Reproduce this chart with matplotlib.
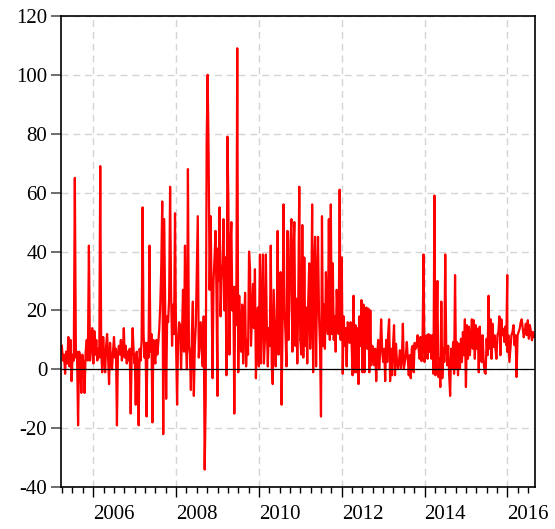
import numpy as np
import pandas as pd
import matplotlib
matplotlib.use("Agg")
import matplotlib.pyplot as plt
import matplotlib.dates as mdates

plt.rcParams["font.family"] = ["Liberation Serif", "DejaVu Serif"]
plt.rcParams["axes.unicode_minus"] = False

# values, one list per calendar year (evenly spread within the year)
first_day = "2005-03-29"
last_day = "2016-08-23"

v2005 = [8, 3, 5, -1.5, 6, 2, 11, 1, 10, -4, 5, 3, 65, 4, 6, -19, 6, 4, -8, 5,
         2, -8, 6, 10, 3, 42, 3, 7, 14, 4]
v2006 = [2, 13, 5, 10, 3, 7, 4, 69, 6, -1, 11, 4, -1, 8, 12, 4, -5, 9, 3, 0,
         6, 11, 4, 7, -19, 5, 8, 5, 10, 3, 6, 14, 4, 8, 2, 6, 3, 7, -15, 5,
         14, 6, 2]
v2007 = [5, -12, 6, 1, -19, 7, 3, 10, 55, 12, 4, 9, -16, 9, 4, 42, 6, 12, -18, 10,
         4, 2, 10, 5, 9, 14, 22, 35, 57, -22, 51, 20, -10, 18, 16, 24, 62, 26, 8, 22,
         12, 53, 10]
v2008 = [8, -12, 10, 16, 15, 0, 12, 27, 6, 42, 10, 0, 68, 8, 5, -7, 12, 23, -9, 8,
         15, 34, 52, 4, 10, 16, 6, 1, 18, -34, -11, 77, 100, 73, 27, 52, 27, -3, 30, 38,
         47, 25, -9]
v2009 = [41, 30, 55, 18, 30, 36, 51, 20, 38, -2, 79, 56, 5, 41, 50, 20, 28, -15, 28, 15,
         109, -1, 25, 12, 6, 22, 2, 15, 26, 1, 10, 5, 40, 34, 8, 18, 29, 14, 34, -3,
         12, 21, 1]
v2010 = [12, 39, 2, 20, 39, 2, 10, 39, 14, 1, 14, 8, 42, 1, -5, 27, 14, 1, 12, 47,
         5, 20, 33, -12, 15, 56, 20, 12, 1, 47, 10, 22, 43, 51, 6, 39, 50, 8, 24, 2,
         24, 62, 10]
v2011 = [10, 5, 49, 4, 38, 8, 21, 2, 23, 36, 7, 18, 56, -1, 33, 45, 1, 30, 45, 18,
         8, -16, 52, 8, 22, 7, 33, 18, 12, 51, 10, 56, 12, 36, 10, 18, 6, 27, 18, 12,
         61, 10, 38]
v2012 = [38, -1.5, 18, 8, 14, 1, 16, 15, 9, 16, 9, -2, 25, -1, 15, -1, 14, -5, 18, 8,
         23.5, -1, 22, -1, 12, 21, 7, 20.6, -1, 20, 1.4, 8, 7, 1.4, 7, -4, 5, 10, 0, 6,
         17, 7, 2.5]
v2013 = [2.5, 7, -4, 10, 2.5, 12, 17, -4, 7, -2, 8, 15, -2, 8.7, 2.5, 0.2, 2.5, 6.5, 0.2, 3.6,
         15.5, 0.2, 2.5, 4.8, 9.3, 3.6, -2, 4.8, -3, 7, 8, -1, 9, 7, 8, 11.6, 7, 3.6, 11, 2.8,
         8, 39, 2.5]
v2014 = [2.5, 9, 11.6, 3.6, 12, 5.9, 11.6, 3.6, 11.6, -1.5, 59, -2, 10.4, 30, -2.6, 3.6, -6, 23, -3, 7,
         2.5, 39, 8, 1.4, 8, -2, -9, 7, 0.2, 9.3, -1.5, 32, 0.2, 9.3, -2, 8.7, 0.2, 10.4, 2.5, 12.7,
         4.8, 17, -6]
v2015 = [-6, 15, 3.6, 14.5, 4.8, 10.4, 17, 7, 16.7, 3.6, 15, 7, 13.8, -1, 14.5, 7, 2.5, 11.6, 2.5, -1,
         -1.5, 10.4, 4.8, 25, 7, 17, 3.6, 15.5, 7.6, 11.6, 7, 3.6, 11.6, 12.7, 18, 4.8, 17, 11.6, 13.8, 9.3,
         14.5, 8.2, 32]
v2016 = [5.9, 11.6, 2.5, 7, 11.6, 12.7, 15, 8.2, 11.6, -2.6, 11.6, 12.7, 13.8, 16, 17, 13.8, 10.9, 12.7,
         15.5, 11.6, 16.7, 10.4, 15, 12.7, 9.9, 12.7, 11]

years = list(range(2005, 2017))
year_values = [v2005, v2006, v2007, v2008, v2009, v2010, v2011, v2012,
               v2013, v2014, v2015, v2016]

parts = []
for yr, vals in zip(years, year_values):
    start = first_day if yr == 2005 else f"{yr}-01-01"
    end = last_day if yr == 2016 else f"{yr}-12-31"
    idx = pd.date_range(start, end, periods=len(vals))
    parts.append(pd.Series(vals, index=idx))
series = pd.concat(parts)

fig = plt.figure(figsize=(5.55, 5.29), dpi=100)
ax = fig.add_axes([0.110, 0.079, 0.854, 0.891])

ax.plot(series.index, series.values, color="#ff0000", lw=1.6)
ax.axhline(0, color="black", lw=0.9)

ax.set_ylim(-40, 120)
ax.set_yticks(range(-40, 121, 20))
ax.set_xlim(pd.Timestamp("2005-03-22"), pd.Timestamp("2016-09-01"))

even_years = [pd.Timestamp(f"{y}-01-01") for y in range(2006, 2017, 2)]
ax.set_xticks(even_years)
ax.set_xticklabels([str(y) for y in range(2006, 2017, 2)], ha="left")
ax.xaxis.set_minor_locator(mdates.MonthLocator(bymonth=[1, 4, 7, 10]))

for d in even_years:
    ax.axvline(d, color="#d4d4d4", lw=1, ls=(0, (5, 3.5)), zorder=0)
ax.yaxis.grid(True, color="#d4d4d4", lw=1, ls=(0, (5, 3.5)))
ax.set_axisbelow(True)

ax.tick_params(axis="y", which="major", length=7, width=1.2, color="#555555",
               labelsize=15, pad=3)
ax.tick_params(axis="x", which="major", length=7, width=1, labelsize=15, pad=6)
ax.tick_params(axis="x", which="minor", length=4, width=1)
for s in ax.spines.values():
    s.set_linewidth(1.2)

fig.savefig("out.png", dpi=100)
